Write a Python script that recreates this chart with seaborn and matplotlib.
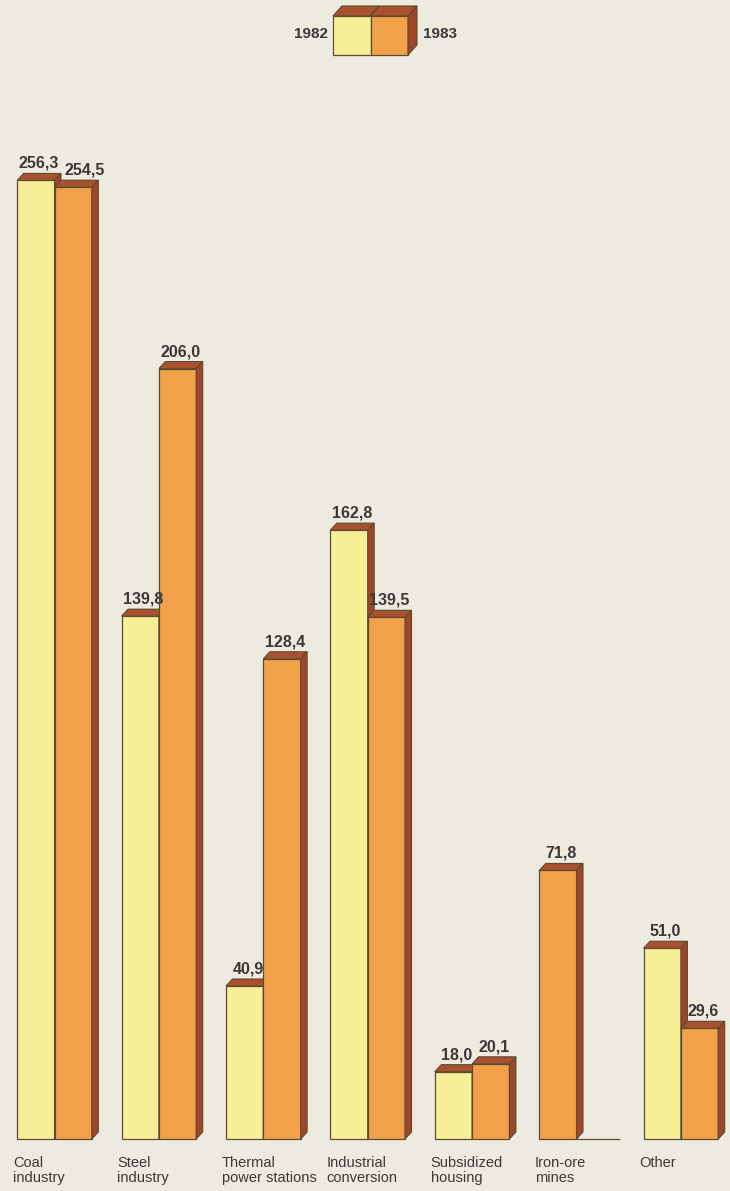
import matplotlib
matplotlib.use("Agg")
import matplotlib.pyplot as plt
import pandas as pd
import seaborn as sns
from matplotlib.patches import Polygon, Rectangle

# ---- data -------------------------------------------------------------
categories = ["Coal\nindustry", "Steel\nindustry", "Thermal\npower stations",
              "Industrial\nconversion", "Subsidized\nhousing", "Iron-ore\nmines", "Other"]
years = ["1982", "1983"]
values_1982 = [256.3, 139.8, 40.9, 162.8, 18.0, 0.0, 51.0]
values_1983 = [254.5, 206.0, 128.4, 139.5, 20.1, 71.8, 29.6]

df = pd.DataFrame({
    "sector": categories * 2,
    "year": [years[0]] * len(categories) + [years[1]] * len(categories),
    "aid": values_1982 + values_1983,
})

# ---- style ------------------------------------------------------------
BG = "#EDEBE0"
YELLOW = "#F6EF98"
ORANGE = "#F0A14A"
TOP = "#A8522F"
SIDE = "#9C4729"
EDGE = "#5E4A30"
TEXT = "#3A3838"

sns.set_theme(style="white")
plt.rcParams["font.family"] = ["Liberation Sans", "DejaVu Sans"]

W, H = 730, 1191
DPI = 100
fig = plt.figure(figsize=(W / DPI, H / DPI), dpi=DPI, facecolor=BG)
ax = fig.add_axes([0, 0, 1, 1])
ax.set_facecolor(BG)

BAR_WIDTH = 0.715
sns.barplot(data=df, x="sector", y="aid", hue="year", order=categories,
            hue_order=years, palette={"1982": YELLOW, "1983": ORANGE},
            saturation=1, width=BAR_WIDTH, dodge=True, errorbar=None,
            legend=False, edgecolor=EDGE, linewidth=0.9, ax=ax)

# axis frame: baseline 52 px above the bottom edge, 3.74 px per unit
PX_PER_UNIT = 3.74
ax.set_ylim(-52 / PX_PER_UNIT, (H - 52) / PX_PER_UNIT)
ax.set_xlim(-54.5 / 104.4, (W - 54.5) / 104.4)
ax.axis("off")

# depth of the extruded faces in data units
dx = 6.5 / 104.4
dy = 7.0 / PX_PER_UNIT

n = len(categories)
bars = list(ax.patches)[: 2 * n]
bars82, bars83 = bars[:n], bars[n:]

# Iron-ore mines: the 1983 bar stands in the left slot, the empty 1982 slot to its right
i_iron = categories.index("Iron-ore\nmines")
xa, xb = bars82[i_iron].get_x(), bars83[i_iron].get_x()
bars82[i_iron].set_x(xb)
bars83[i_iron].set_x(xa)
bars82[i_iron].set_width(bars82[i_iron].get_width() + dx)

ordered = sorted(bars, key=lambda p: p.get_x())
for rank, p in enumerate(ordered):
    z = 3 + rank
    p.set_zorder(z)
    h = p.get_height()
    x0 = p.get_x()
    x1 = x0 + p.get_width()
    if h <= 0:
        p.set_edgecolor(EDGE)
        continue
    top = Polygon([(x0, h), (x1, h), (x1 + dx, h + dy), (x0 + dx, h + dy)],
                  closed=True, facecolor=TOP, edgecolor=EDGE, linewidth=0.8, zorder=z)
    side = Polygon([(x1, 0), (x1 + dx, dy), (x1 + dx, h + dy), (x1, h)],
                   closed=True, facecolor=SIDE, edgecolor=EDGE, linewidth=0.8, zorder=z)
    ax.add_patch(top)
    ax.add_patch(side)


def fmt(v):
    return f"{v:.1f}".replace(".", ",")


# value labels above each bar
pairs = []
for i in range(n):
    group = []
    for p, v in ((bars82[i], values_1982[i]), (bars83[i], values_1983[i])):
        if v <= 0:
            continue
        cx = p.get_x() + p.get_width() / 2 + dx / 2
        t = ax.annotate(fmt(v), xy=(cx, v + dy), xytext=(0, 4),
                        textcoords="offset points", ha="center", va="baseline",
                        fontsize=11.5, fontweight="bold", color=TEXT, zorder=50)
        group.append(t)
    if len(group) == 2:
        pairs.append(group)

# push the right-hand label clear of its neighbour when the two collide
fig.canvas.draw()
renderer = fig.canvas.get_renderer()
for left, right in pairs:
    bl = left.get_window_extent(renderer)
    br = right.get_window_extent(renderer)
    if bl.overlaps(br):
        shift_px = bl.x1 + 5 - br.x0
        right.set_position((shift_px * 72 / DPI, 4))

# category labels under each group
for i, cat in enumerate(categories):
    ax.annotate(cat, xy=(i - BAR_WIDTH / 2, 0), xytext=(-3, -12.5),
                textcoords="offset points", ha="left", va="top",
                fontsize=10.5, linespacing=1.02, color=TEXT)

# ---- legend: a small extruded box split into the two years -------------
def fx(px):
    return px / W


def fy(py):
    return 1 - py / H


lx0, lxm, lx1 = 333, 370.5, 408
ly_top, ly_bot = 16, 55
ldx, ldy = 9, 10
tr = ax.transAxes
for (a, b, col) in ((lx0, lxm, YELLOW), (lxm, lx1, ORANGE)):
    ax.add_patch(Rectangle((fx(a), fy(ly_bot)), fx(b) - fx(a), fy(ly_top) - fy(ly_bot),
                           transform=tr, facecolor=col, edgecolor=EDGE,
                           linewidth=0.9, zorder=60))
    ax.add_patch(Polygon([(fx(a), fy(ly_top)), (fx(b), fy(ly_top)),
                          (fx(b + ldx), fy(ly_top - ldy)), (fx(a + ldx), fy(ly_top - ldy))],
                         closed=True, transform=tr, facecolor=TOP, edgecolor=EDGE,
                         linewidth=0.8, zorder=60))
ax.add_patch(Polygon([(fx(lx1), fy(ly_bot)), (fx(lx1 + ldx), fy(ly_bot - ldy)),
                      (fx(lx1 + ldx), fy(ly_top - ldy)), (fx(lx1), fy(ly_top))],
                     closed=True, transform=tr, facecolor=SIDE, edgecolor=EDGE,
                     linewidth=0.8, zorder=60))
ax.text(fx(328), fy(34), years[0], transform=tr, ha="right", va="center",
        fontsize=11, fontweight="bold", color=TEXT)
ax.text(fx(423), fy(34), years[1], transform=tr, ha="left", va="center",
        fontsize=11, fontweight="bold", color=TEXT)

fig.savefig("out.png", dpi=DPI, facecolor=BG)
